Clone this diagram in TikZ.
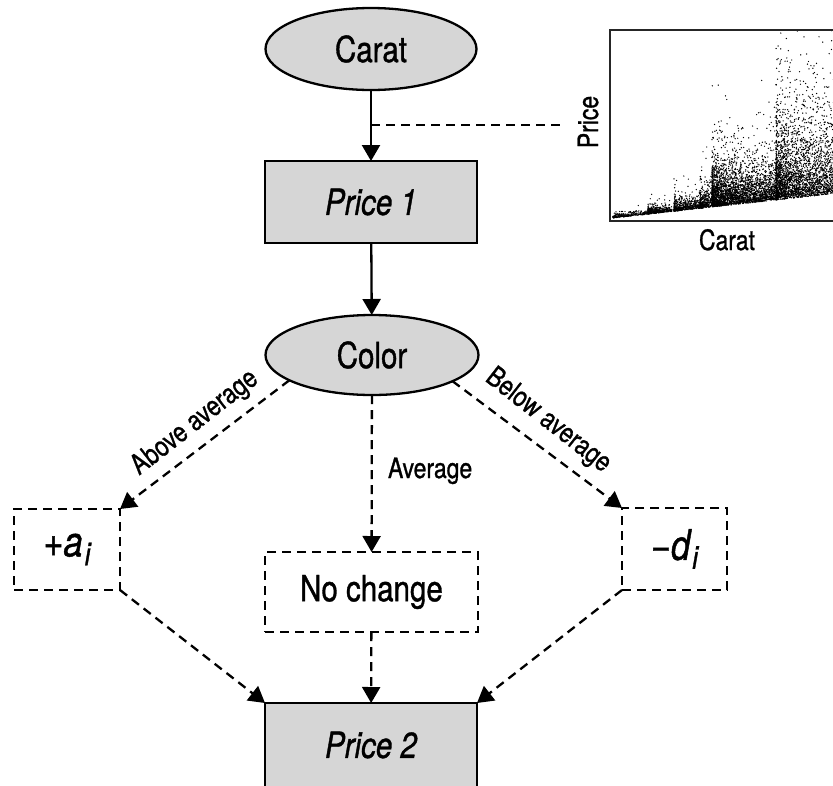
\documentclass[tikz,border=0pt]{standalone}
\usepackage{fontspec}
\setmainfont[FakeStretch=0.82,FakeBold=1.0]{TeX Gyre Heros}
\usetikzlibrary{arrows.meta,shapes.geometric}
\definecolor{boxgray}{HTML}{D6D6D6}
% lowered italic index
\newcommand\idxsub[1]{\raisebox{-9pt}{\fontsize{32}{32}\selectfont\itshape #1}}
% one band of scatter dots: x0, x1, count, spread scale
\newcommand\dotband[4]{%
  \foreach \k in {1,...,#3}{%
    \pgfmathsetmacro\uu{rnd}%
    \pgfmathsetmacro\px{#1+(#2-#1)*\uu^1.5}%
    \pgfmathsetmacro\lo{218-0.11*(\px-612)}%
    \pgfmathsetmacro\vv{max(rnd,0.0005)}%
    \pgfmathsetmacro\py{\lo+#4*ln(\vv)}%
    \fill[black] (\px,\py) circle (0.7pt);
  }}
\begin{document}
\begin{tikzpicture}[x=1pt,y=-1pt,
  every node/.style={inner sep=0pt,outer sep=0pt},
  bigtxt/.style={font=\fontsize{36}{40}\selectfont},
  smalltxt/.style={font=\fontsize{28}{30}\selectfont},
  oval/.style={ellipse,draw,line width=2.3pt,fill=boxgray,bigtxt},
  solidbox/.style={rectangle,draw,line width=2.3pt,fill=boxgray,bigtxt},
  dashbox/.style={rectangle,draw,line width=2.3pt,dash pattern=on 9pt off 6pt,bigtxt},
  link/.style={line width=2.3pt,-{Triangle[length=16pt,width=18pt]}},
  dlink/.style={link,dash pattern=on 9pt off 6pt},
  dline/.style={line width=2.3pt,dash pattern=on 9pt off 6pt},
]
\useasboundingbox (0,0) rectangle (833,785);

% flow chart nodes
\node[oval,minimum width=211pt,minimum height=82pt] (carat) at (371,49) {Carat};
\node[solidbox,minimum width=212pt,minimum height=82pt] (p1) at (371,202) {\itshape Price 1};
\node[oval,minimum width=213pt,minimum height=80pt] (color) at (372,355) {Color};
\node[dashbox,minimum width=106pt,minimum height=81pt,font=\fontsize{42}{44}\selectfont] (ai) at (67,549.5) {+{\itshape a}\kern2pt\idxsub{i}};
\node[dashbox,minimum width=213pt,minimum height=80pt] (nc) at (371.5,592) {No change};
\node[dashbox,minimum width=105pt,minimum height=82pt,font=\fontsize{42}{44}\selectfont] (di) at (674.5,549) {\char"2212{\itshape d}\kern2pt\idxsub{i}};
\node[solidbox,minimum width=212pt,minimum height=84pt] (p2) at (371,745) {\itshape Price 2};

% connectors
\draw[link] (carat) -- (p1);
\coordinate (tap) at (371,125);
\coordinate (plotend) at (560,125);
\draw[dline] (tap) -- (plotend);
\draw[link] (p1) -- (color);
\draw[dlink] (color.197) -- (ai.north east);
\draw[dlink] (color) -- (nc);
\draw[dlink] (color.-18) -- (di.north west);
\draw[dlink] (ai.south east) -- (p2.north west);
\draw[dlink] (nc) -- (p2);
\draw[dlink] (di.south west) -- (p2.north east);

% branch labels
\node[smalltxt,rotate=38] (lab1) at (195,423) {Above average};
\node[smalltxt,anchor=base west] (lab2) at (388,478) {Average};
\node[smalltxt,rotate=-38] (lab3) at (548,421) {Below average};

% scatter plot of price against carat
\begin{scope}
\clip (611,31) rectangle (850,220);
\pgfmathsetseed{4217}
\dotband{613}{648}{260}{1.5}
\dotband{648}{672}{380}{3}
\dotband{674}{700}{500}{4.5}
\dotband{700}{712}{320}{8}
\dotband{712}{776}{2800}{16}
\dotband{776}{845}{3000}{30}
\end{scope}
\draw[line width=1.6pt,draw=black!85] (610,30) rectangle (850,221);
\node[smalltxt,rotate=90] (ylab) at (588,122) {Price};
\node[smalltxt,anchor=base] (xlab) at (727,250) {Carat};
\end{tikzpicture}
\end{document}
